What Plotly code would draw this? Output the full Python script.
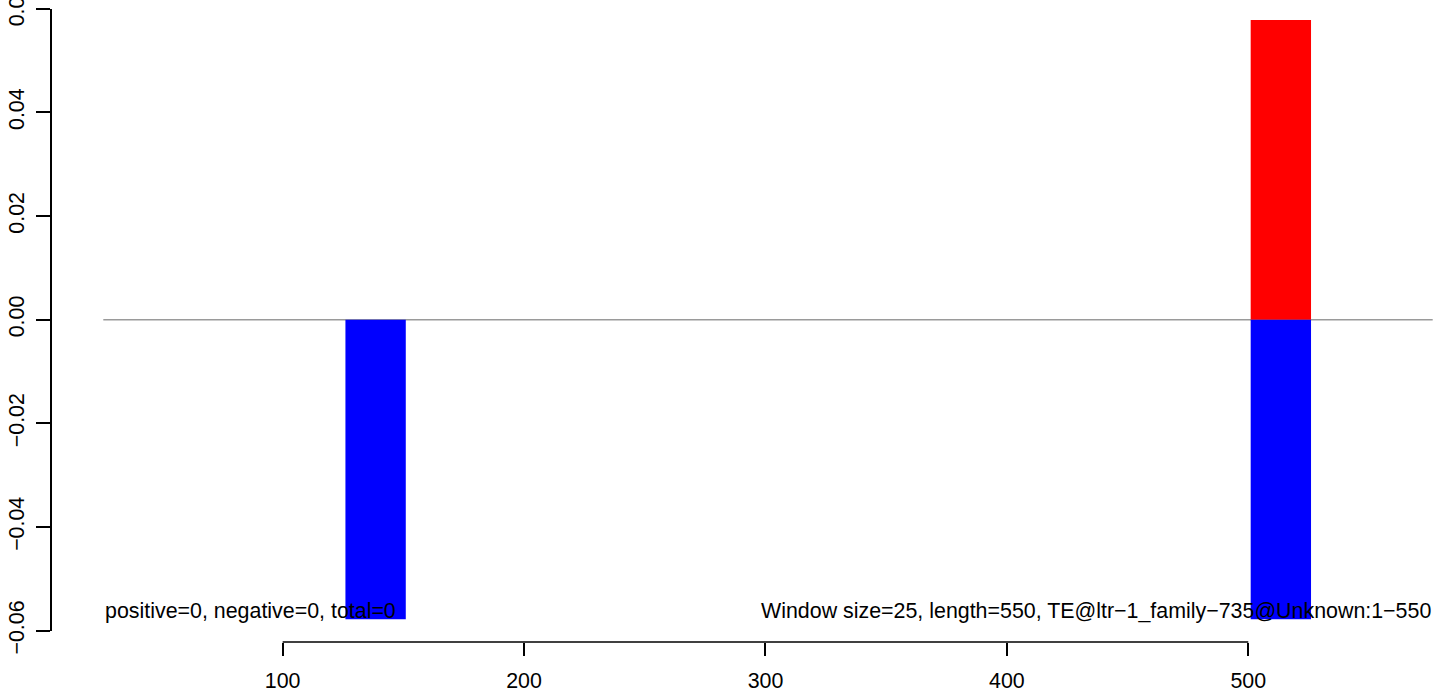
import plotly.graph_objects as go

# window bars (centre of each 25-wide window) and their values
win_centers = [138.5, 513.5]
win_width = 25
pos_vals = [None, 0.0578]
neg_vals = [-0.0578, -0.0578]

x_ticks = [100, 200, 300, 400, 500]
y_ticks = [-0.06, -0.04, -0.02, 0.0, 0.02, 0.04, 0.06]
y_labels = ['\u22120.06', '\u22120.04', '\u22120.02', '0.00', '0.02', '0.04', '0.06']

left_note = 'positive=0, negative=0, total=0'
right_note = 'Window size=25, length=550, TE@ltr\u22121_family\u2212735@Unknown:1\u2212550'

W, H = 1444, 690
FONT = 'Liberation Sans, Arial, Helvetica, sans-serif'
FS = 21.4

fig = go.Figure()

fig.add_trace(go.Bar(
    x=win_centers, y=pos_vals, width=win_width,
    marker=dict(color='#ff0000', line=dict(width=0)),
    hoverinfo='skip', showlegend=False
))
fig.add_trace(go.Bar(
    x=win_centers, y=neg_vals, width=win_width,
    marker=dict(color='#0000ff', line=dict(width=0)),
    hoverinfo='skip', showlegend=False
))

x_axis_pos = (H - 642) / H

fig.add_shape(type='line', xref='x domain', yref='y', x0=0, x1=1, y0=0, y1=0,
              line=dict(color='#9a9a9a', width=1.5), layer='below')
fig.add_shape(type='line', xref='x', yref='paper', x0=min(x_ticks), x1=max(x_ticks),
              y0=x_axis_pos, y1=x_axis_pos, line=dict(color='black', width=1.5))

fig.add_annotation(text=left_note, xref='x domain', yref='paper', x=0, y=(H - 611) / H,
                   xanchor='left', yanchor='middle', showarrow=False,
                   font=dict(family=FONT, size=FS, color='black'))
fig.add_annotation(text=right_note, xref='x domain', yref='paper', x=1, y=(H - 611) / H,
                   xanchor='right', yanchor='middle', showarrow=False,
                   font=dict(family=FONT, size=FS, color='black'))

fig.update_layout(
    width=W, height=H,
    margin=dict(l=0, r=0, t=0, b=0),
    paper_bgcolor='white', plot_bgcolor='white',
    barmode='relative',
    xaxis=dict(
        domain=[103.3 / W, 1432.7 / W], range=[25.7, 576.4],
        anchor='free', position=x_axis_pos,
        showgrid=False, zeroline=False, showline=False,
        tickmode='array', tickvals=x_ticks,
        ticks='outside', ticklen=13, tickwidth=1.5, tickcolor='black',
        ticklabelstandoff=6, ticklabeloverflow='allow',
        tickfont=dict(family=FONT, size=FS, color='black'),
        automargin=False
    ),
    yaxis=dict(
        domain=[(H - 630.7) / H, (H - 8.7) / H], range=[-0.06, 0.06],
        anchor='free', position=51 / W,
        showgrid=False, zeroline=False,
        showline=True, linecolor='black', linewidth=1.5,
        tickmode='array', tickvals=y_ticks, ticktext=y_labels, tickangle=-90,
        ticks='outside', ticklen=14, tickwidth=1.5, tickcolor='black',
        ticklabelstandoff=4, ticklabeloverflow='allow',
        tickfont=dict(family=FONT, size=FS, color='black'),
        automargin=False
    )
)

# drop the page's default body margin so the figure sits at the window corner
fig.write_html('out.html', config={'displayModeBar': False},
               post_script="document.body.style.margin='0';")
